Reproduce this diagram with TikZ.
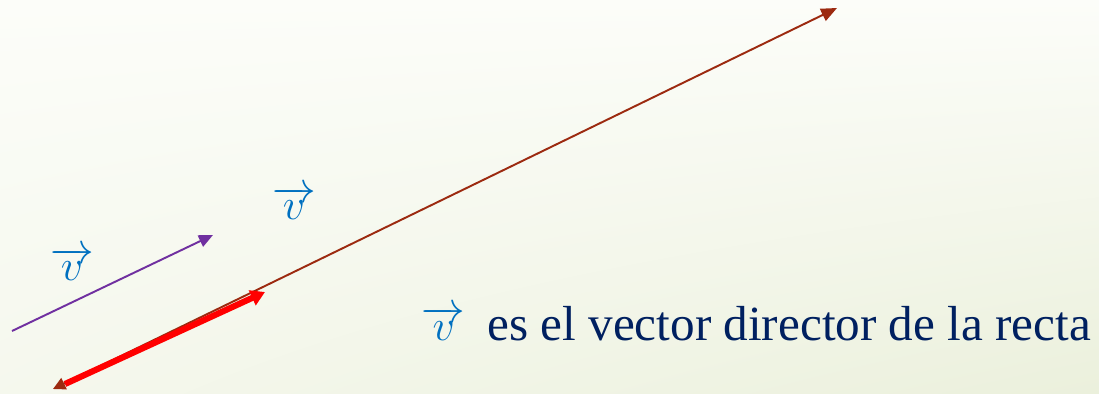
\documentclass[tikz,border=0pt]{standalone}
\usepackage{fontspec}
\setmainfont{Liberation Serif}
\usetikzlibrary{arrows.meta,positioning,shadings}
\definecolor{rectacol}{HTML}{9C2A10}
\definecolor{libcol}{HTML}{7030A0}
\definecolor{vecazul}{HTML}{0070C0}
\definecolor{textocol}{HTML}{002060}
\definecolor{fondoa}{HTML}{FCFDF9}
\definecolor{fondob}{HTML}{EBF0DC}
\tikzset{
  recta/.style    = {draw=rectacol, line width=1.1pt,
                     {Triangle[length=7pt,width=7pt]}-{Triangle[length=9pt,width=7.5pt]}},
  director/.style = {draw=red, line width=3.5pt, -{Triangle[length=8pt,width=9pt]}},
  libre/.style    = {draw=libcol, line width=1.1pt, -{Triangle[length=8pt,width=7pt]}},
  etiqueta/.style = {text=vecazul, font=\fontsize{32}{34}\selectfont, inner sep=0pt},
  texto/.style    = {text=textocol, font=\fontsize{28}{30}\selectfont, inner sep=0pt}
}
\begin{document}
\begin{tikzpicture}[x=0.02cm, y=-0.02cm]
  % fondo
  \shade[upper left=fondoa, upper right=fondoa, lower left=fondoa!60!fondob,
         lower right=fondob] (0,0) rectangle (1099,393);
  \useasboundingbox (0,0) rectangle (1099,393);
  % puntos
  \coordinate (r1) at (53,389);
  \coordinate (r2) at (837,8);
  \coordinate (d1) at (65,384);
  \coordinate (d2) at (265,292);
  \coordinate (v1) at (12,331);
  \coordinate (v2) at (213,235);
  % vectores
  \draw[recta] (r1) -- (r2);
  \draw[director] (d1) -- (d2);
  \draw[libre] (v1) -- (v2);
  \node[etiqueta] (lab1) at (72,264) {$\overrightarrow{v}$};
  \node[etiqueta] (lab2) at (294,203) {$\overrightarrow{v}$};
  \node[texto, anchor=base west] (lema) at (487,340) {es el vector director de la recta};
  \node[etiqueta, font=\fontsize{24}{26}\selectfont,
        left=12pt of lema.base west, anchor=base east] (lab3) {$\overrightarrow{v}$};
\end{tikzpicture}
\end{document}
